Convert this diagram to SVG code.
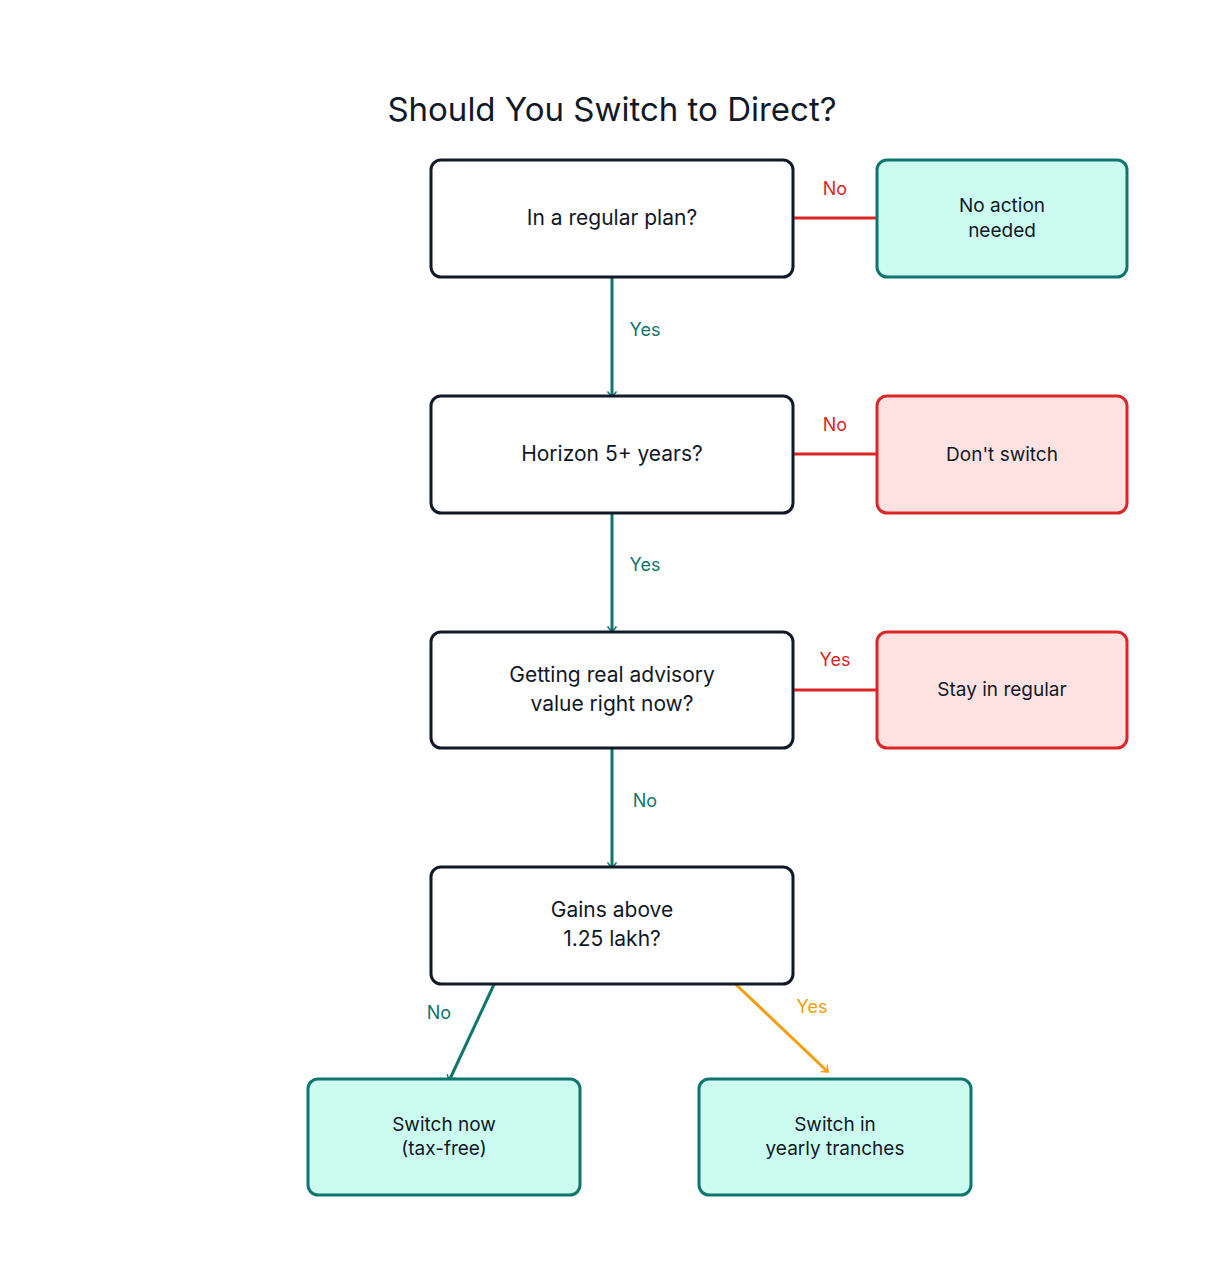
<svg xmlns="http://www.w3.org/2000/svg" width="1224" height="1286" viewBox="0 0 1224 1286">
<style>
text{font-family:"Inter","Liberation Sans",sans-serif;text-anchor:middle}
.t{font-size:21px;fill:#111827}
.s{font-size:19px;fill:#111827}
.q{fill:#fff;stroke:#111827;stroke-width:3}
.g{fill:#ccfbef;stroke:#0f766e;stroke-width:3}
.r{fill:#fee2e2;stroke:#dc2626;stroke-width:3}
.lg{font-size:18px;fill:#0f766e}
.lr{font-size:18px;fill:#dc2626}
.lo{font-size:18px;fill:#f59e0b}
.cg{stroke:#0f766e;stroke-width:3;fill:none;marker-end:url(#ag)}
.cr{stroke:#dc2626;stroke-width:3;fill:none;marker-end:url(#ar)}
.co{stroke:#f59e0b;stroke-width:3;fill:none;marker-end:url(#ao)}
</style>
<defs>
<marker id="ag" viewBox="0 0 10 10" refX="9" refY="5" markerWidth="5" markerHeight="5" orient="auto" markerUnits="userSpaceOnUse" style="overflow:visible"><path d="M-2,-4 L9,5 L-2,14" transform="scale(1)" fill="none" stroke="#0f766e" stroke-width="3"/></marker>
<marker id="ar" viewBox="0 0 10 10" refX="9" refY="5" markerWidth="5" markerHeight="5" orient="auto" markerUnits="userSpaceOnUse" style="overflow:visible"><path d="M-2,-4 L9,5 L-2,14" fill="none" stroke="#dc2626" stroke-width="3"/></marker>
<marker id="ao" viewBox="0 0 10 10" refX="9" refY="5" markerWidth="5" markerHeight="5" orient="auto" markerUnits="userSpaceOnUse" style="overflow:visible"><path d="M-2,-4 L9,5 L-2,14" fill="none" stroke="#f59e0b" stroke-width="3"/></marker>
</defs>
<rect width="1224" height="1286" fill="#fff"/>
<text x="612" y="121" style="font-size:33px;fill:#111827">Should You Switch to Direct?</text>
<g id="connectors">
<path class="cg" d="M612,270 V397"/>
<path class="cg" d="M612,506 V632"/>
<path class="cg" d="M612,742 V868"/>
<path class="cr" d="M784,218 H882"/>
<path class="cr" d="M784,454 H882"/>
<path class="cr" d="M784,690 H882"/>
<path class="cg" d="M497,978 L449,1081"/>
<path class="co" d="M727,976 L828,1072"/>
<text class="lg" x="645" y="336">Yes</text>
<text class="lg" x="645" y="571">Yes</text>
<text class="lg" x="645" y="807">No</text>
<text class="lr" x="835" y="195">No</text>
<text class="lr" x="835" y="431">No</text>
<text class="lr" x="835" y="666">Yes</text>
<text class="lg" x="439" y="1019">No</text>
<text class="lo" x="812" y="1013">Yes</text>
</g>
<g id="q1"><rect class="q" x="431" y="160" width="362" height="117" rx="10"/><text class="t" x="612" y="225">In a regular plan?</text></g>
<g id="q2"><rect class="q" x="431" y="396" width="362" height="117" rx="10"/><text class="t" x="612" y="461">Horizon 5+ years?</text></g>
<g id="q3"><rect class="q" x="431" y="632" width="362" height="116" rx="10"/><text class="t" x="612" y="682">Getting real advisory</text><text class="t" x="612" y="711">value right now?</text></g>
<g id="q4"><rect class="q" x="431" y="867" width="362" height="117" rx="10"/><text class="t" x="612" y="917">Gains above</text><text class="t" x="612" y="946">1.25 lakh?</text></g>
<g id="noaction"><rect class="g" x="877" y="160" width="250" height="117" rx="10"/><text class="s" x="1002" y="212">No action</text><text class="s" x="1002" y="237">needed</text></g>
<g id="dontswitch"><rect class="r" x="877" y="396" width="250" height="117" rx="10"/><text class="s" x="1002" y="461">Don't switch</text></g>
<g id="stay"><rect class="r" x="877" y="632" width="250" height="116" rx="10"/><text class="s" x="1002" y="696">Stay in regular</text></g>
<g id="switchnow"><rect class="g" x="308" y="1079" width="272" height="116" rx="10"/><text class="s" x="444" y="1131">Switch now</text><text class="s" x="444" y="1155">(tax-free)</text></g>
<g id="tranches"><rect class="g" x="699" y="1079" width="272" height="116" rx="10"/><text class="s" x="835" y="1131">Switch in</text><text class="s" x="835" y="1155">yearly tranches</text></g>
</svg>
